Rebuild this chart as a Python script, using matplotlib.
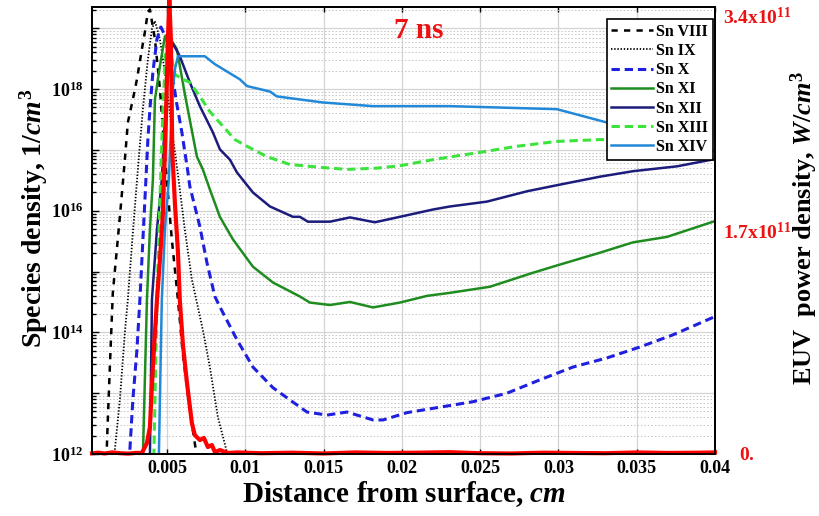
import numpy as np
import matplotlib
matplotlib.use("Agg")
import matplotlib.pyplot as plt
from matplotlib.ticker import FixedLocator, LogLocator, NullFormatter, FuncFormatter
from matplotlib.transforms import ScaledTranslation

# ion densities, stored as log10(n / cm^-3), x in cm
x_sn8 = [0.00115, 0.00121, 0.00134, 0.00153, 0.00198, 0.00230, 0.00249, 0.00281, 0.00307,
         0.00339, 0.00358, 0.00377, 0.00390, 0.00422, 0.00454, 0.00492, 0.00530, 0.00569,
         0.00601, 0.00645, 0.00690]
lg_sn8 = [12.12, 12.56, 13.43, 14.65, 15.90, 16.84, 17.45, 17.83, 18.16,
          18.66, 18.94, 19.27, 19.31, 18.82, 18.00, 16.68, 15.53, 14.54,
          13.63, 12.72, 11.95]

x_sn9 = [0.00166, 0.00198, 0.00230, 0.00249, 0.00281, 0.00313, 0.00345, 0.00377, 0.00403,
         0.00422, 0.00454, 0.00492, 0.00530, 0.00569, 0.00613, 0.00658, 0.00728, 0.00773,
         0.00824, 0.00888]
lg_sn9 = [12.07, 12.89, 14.00, 14.54, 15.64, 16.68, 17.67, 18.49, 18.99,
          19.12, 18.82, 18.16, 17.34, 16.60, 15.69, 14.87, 14.04, 13.43,
          12.61, 11.97]

x_sn10 = [0.00262, 0.00281, 0.00307, 0.00326, 0.00358, 0.00377, 0.00390, 0.00409, 0.00435,
          0.00460, 0.00498, 0.00537, 0.00562, 0.00594, 0.00633, 0.00645, 0.00709, 0.00754,
          0.00805, 0.00837, 0.00946, 0.01048, 0.01176, 0.01284, 0.01393, 0.01521, 0.01649,
          0.01815, 0.01879, 0.02032, 0.02243, 0.02454, 0.02671, 0.02882, 0.03093, 0.03310,
          0.03521, 0.03732, 0.04000]
lg_sn10 = [12.07, 12.89, 13.71, 14.54, 16.18, 17.17, 17.67, 18.28, 18.82,
           19.02, 18.82, 18.16, 17.75, 17.29, 16.63, 16.40, 15.74, 15.15,
           14.59, 14.42, 13.88, 13.43, 13.09, 12.89, 12.69, 12.64, 12.69,
           12.56, 12.56, 12.68, 12.77, 12.86, 13.00, 13.22, 13.43, 13.58,
           13.76, 13.96, 14.26]

x_sn11 = [0.00345, 0.00371, 0.00390, 0.00409, 0.00422, 0.00454, 0.00486, 0.00505, 0.00530,
          0.00562, 0.00613, 0.00690, 0.00728, 0.00773, 0.00837, 0.00920, 0.01048, 0.01176,
          0.01348, 0.01412, 0.01540, 0.01668, 0.01815, 0.01987, 0.02160, 0.02307, 0.02562,
          0.02837, 0.02990, 0.03265, 0.03476, 0.03693, 0.04000]
lg_sn11 = [11.95, 14.54, 15.69, 16.51, 17.83, 18.38, 18.87, 18.90, 18.79,
           18.66, 17.92, 16.89, 16.68, 16.35, 15.90, 15.53, 15.08, 14.82,
           14.59, 14.49, 14.45, 14.50, 14.41, 14.49, 14.60, 14.65, 14.75,
           14.98, 15.10, 15.31, 15.48, 15.57, 15.83]

x_sn12 = [0.00390, 0.00403, 0.00435, 0.00466, 0.00486, 0.00505, 0.00530, 0.00556, 0.00581,
          0.00645, 0.00709, 0.00792, 0.00837, 0.00901, 0.00946, 0.01048, 0.01157, 0.01304,
          0.01348, 0.01399, 0.01540, 0.01668, 0.01827, 0.01987, 0.02198, 0.02307, 0.02543,
          0.02799, 0.03010, 0.03265, 0.03476, 0.03757, 0.04000]
lg_sn12 = [11.95, 14.54, 15.69, 16.51, 17.50, 18.24, 18.77, 18.66, 18.54,
           18.11, 17.72, 17.29, 17.01, 16.84, 16.63, 16.30, 16.07, 15.90,
           15.90, 15.82, 15.82, 15.89, 15.81, 15.90, 16.02, 16.07, 16.15,
           16.32, 16.43, 16.56, 16.65, 16.73, 16.85]

x_sn13 = [0.00415, 0.00435, 0.00454, 0.00473, 0.00492, 0.00505, 0.00550, 0.00601, 0.00645,
          0.00709, 0.00773, 0.00856, 0.00933, 0.01010, 0.01137, 0.01284, 0.01495, 0.01649,
          0.01840, 0.01987, 0.02198, 0.02498, 0.02735, 0.02990, 0.03265, 0.04000]
lg_sn13 = [11.95, 14.54, 16.18, 17.67, 18.66, 18.80, 18.24, 18.16, 18.11,
           17.88, 17.63, 17.39, 17.17, 17.06, 16.89, 16.76, 16.71, 16.68,
           16.70, 16.74, 16.84, 16.96, 17.06, 17.14, 17.17, 17.14]

x_sn14 = [0.00447, 0.00466, 0.00486, 0.00511, 0.00524, 0.00530, 0.00550, 0.00569, 0.00741,
          0.00805, 0.00965, 0.01010, 0.01157, 0.01201, 0.01348, 0.01495, 0.01815, 0.02307,
          0.02990, 0.03310, 0.04000]
lg_sn14 = [11.95, 14.54, 15.69, 16.51, 17.34, 17.83, 18.33, 18.54, 18.54,
           18.41, 18.16, 18.05, 17.96, 17.88, 17.83, 17.78, 17.72, 17.72,
           17.67, 17.45, 16.98]

# EUV emission, W/cm^3
x_euv = [0.00020, 0.00060, 0.00100, 0.00150, 0.00200, 0.00250, 0.00300, 0.00339, 0.00371,
         0.00390, 0.00409, 0.00422, 0.00435, 0.00454, 0.00473, 0.00492, 0.00505, 0.00514,
         0.00524, 0.00533, 0.00550, 0.00569, 0.00581, 0.00601, 0.00626, 0.00658, 0.00677,
         0.00709, 0.00735, 0.00760, 0.00786, 0.00805, 0.00837, 0.00888, 0.00950, 0.01100,
         0.01300, 0.01500, 0.01700, 0.01900, 0.02100, 0.02300, 0.02500, 0.02700, 0.02900,
         0.03100, 0.03300, 0.03500, 0.03700, 0.03900, 0.04000]
p_euv = [0.005, 0.010, 0.004, 0.012, 0.006, 0.003, 0.008, 0.008, 0.084,
         0.205, 0.662, 0.920, 1.171, 1.476, 1.833, 2.540, 3.149, 3.460,
         3.149, 2.300, 1.900, 1.540, 1.171, 0.830, 0.548, 0.236, 0.144,
         0.106, 0.122, 0.053, 0.068, 0.015, 0.030, 0.008, 0.012, 0.006,
         0.010, 0.004, 0.012, 0.008, 0.010, 0.014, 0.006, 0.004, 0.010,
         0.008, 0.006, 0.012, 0.008, 0.010, 0.012]
p_euv = np.array(p_euv) * 1e11

labels = ["Sn VIII", "Sn IX", "Sn X", "Sn XI", "Sn XII", "Sn XIII", "Sn XIV"]
xticks = [0.005, 0.01, 0.015, 0.02, 0.025, 0.03, 0.035, 0.04]
xticklabels = ["0.005", "0.01", "0.015", "0.02", "0.025", "0.03", "0.035", "0.04"]
euv_ticks = [0.0, 1.7e11, 3.4e11]
euv_ticklabels = [r"$\mathbf{0.}$", r"$\mathbf{1.7x10^{11}}$", r"$\mathbf{3.4x10^{11}}$"]

plt.rcParams["font.family"] = ["Liberation Serif", "DejaVu Serif"]
plt.rcParams["font.weight"] = "bold"
plt.rcParams["mathtext.fontset"] = "custom"
plt.rcParams["mathtext.rm"] = "Liberation Serif:bold"
plt.rcParams["mathtext.bf"] = "Liberation Serif:bold"
plt.rcParams["mathtext.it"] = "Liberation Serif:italic:bold"
plt.rcParams["lines.scale_dashes"] = False

fig = plt.figure(figsize=(8.19, 5.16), dpi=100)
ax = fig.add_axes([92 / 819, 62 / 516, 623 / 819, 447 / 516])

styles = [
    dict(color="black", lw=1.8, dashes=(4.5, 4.5)),
    dict(color="black", lw=1.3, linestyle=(0, (1, 1.3))),
    dict(color="#1f1fe0", lw=2.2, dashes=(6, 3.5)),
    dict(color="#1f8c1f", lw=1.8),
    dict(color="#1c1c7c", lw=1.8),
    dict(color="#3de33d", lw=2.2, dashes=(6, 3.5)),
    dict(color="#2288d8", lw=1.8),
]
series = [(x_sn8, lg_sn8), (x_sn9, lg_sn9), (x_sn10, lg_sn10), (x_sn11, lg_sn11),
          (x_sn12, lg_sn12), (x_sn13, lg_sn13), (x_sn14, lg_sn14)]
for (xs, lg), lab, st in zip(series, labels, styles):
    ax.plot(xs, 10 ** np.array(lg), label=lab, **st)

ax.set_yscale("log")
ax.set_xlim(0.0002, 0.04)
ax.set_ylim(1e12, 10 ** 19.35)
ax.set_xticks(xticks)
ax.set_xticklabels(xticklabels)
ax.yaxis.set_major_locator(FixedLocator([10.0 ** k for k in range(12, 20)]))
ax.yaxis.set_major_formatter(FuncFormatter(
    lambda v, p: r"$\mathbf{10^{%d}}$" % round(np.log10(v)) if round(np.log10(v)) % 2 == 0 else ""))
ax.yaxis.set_minor_locator(LogLocator(base=10, subs=np.arange(2, 10), numticks=50))
ax.yaxis.set_minor_formatter(NullFormatter())
ax.tick_params(axis="both", which="both", direction="in", top=True, right=True,
               labelsize=13, width=1)
ax.tick_params(axis="x", pad=4)
ax.tick_params(axis="y", which="major", length=5, pad=6)
ax.tick_params(axis="y", which="minor", length=3)
ax.grid(True, which="major", axis="both", color="#d4d4d4", lw=0.9, linestyle="-")
ax.grid(True, which="minor", axis="y", color="#b8b8b8", lw=0.6, linestyle=(0, (1, 1.5)))
ax.set_axisbelow(True)
for sp in ax.spines.values():
    sp.set_linewidth(1.3)

leg = ax.legend(loc="upper right", bbox_to_anchor=(1 - 2 / 623, 1 - 12 / 447),
                borderaxespad=0, fontsize=11.5, frameon=True, fancybox=False,
                edgecolor="black", framealpha=1, handlelength=2.6, handletextpad=0.2,
                labelspacing=0.2, borderpad=0.3)
leg.get_frame().set_linewidth(1.2)

ax2 = ax.twinx()
ax2.plot(x_euv, p_euv, color="#ff0000", lw=3, clip_on=False)
ax2.set_ylim(0, 3.4e11)
ax2.set_yticks(euv_ticks)
ax2.set_yticklabels(euv_ticklabels, color="#ee1111")
ax2.tick_params(axis="y", direction="in", labelsize=14, pad=6, length=0)
ax2.get_yticklabels()[-1].set_verticalalignment("top")
# the zero label sits a little to the right, clear of the last x label
zero_lab = ax2.yaxis.get_major_ticks()[0].label2
zero_lab.set_transform(zero_lab.get_transform() + ScaledTranslation(0.16, 0, fig.dpi_scale_trans))
for sp in ax2.spines.values():
    sp.set_linewidth(1.3)

fig.text(34 / 819, 1 - 218 / 516, r"Species density, $\mathit{1/cm^3}$", rotation=90,
         ha="center", va="center", fontsize=20, fontweight="bold")
fig.text(804 / 819, 1 - 228 / 516, r"EUV  power density, $\mathit{W/cm^3}$", rotation=90,
         ha="center", va="center", fontsize=19, fontweight="bold")
fig.text(404 / 819, 1 - 494 / 516, r"Distance from surface, $\mathit{cm}$",
         ha="center", va="center", fontsize=21, fontweight="bold")
fig.text(419 / 819, 1 - 30 / 516, "7 ns", ha="center", va="center", fontsize=21,
         fontweight="bold", color="#ee1111")

fig.savefig("out.png", dpi=100)
